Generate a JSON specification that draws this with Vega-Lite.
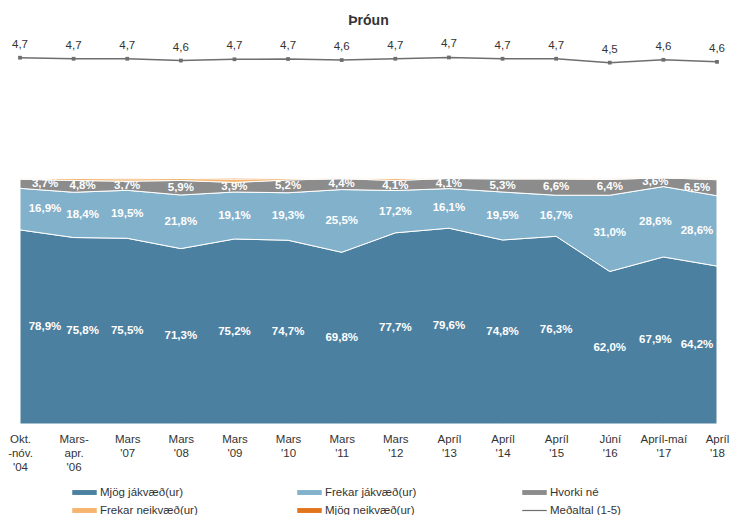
{
  "$schema": "https://vega.github.io/schema/vega-lite/v6.json",
  "width": 697,
  "height": 386,
  "autosize": {"type": "none"},
  "padding": {"left": 20, "top": 38, "right": 15, "bottom": 91},
  "background": "white",
  "title": {"text": "Þróun", "fontSize": 14, "fontWeight": "bold", "font": "Liberation Sans", "color": "#333333", "anchor": "middle", "baseline": "alphabetic", "offset": -1, "frame": "group"},
  "config": {"view": {"stroke": null}, "font": "Liberation Sans"},
  "datasets": {
    "shares": [
      {"period": "Okt.|-nóv.|'04", "cat": "Mjög jákvæð(ur)", "o": 1, "value": 78.9},
      {"period": "Okt.|-nóv.|'04", "cat": "Frekar jákvæð(ur)", "o": 2, "value": 16.9},
      {"period": "Okt.|-nóv.|'04", "cat": "Hvorki né", "o": 3, "value": 3.7},
      {"period": "Okt.|-nóv.|'04", "cat": "Frekar neikvæð(ur)", "o": 4, "value": 0.4},
      {"period": "Okt.|-nóv.|'04", "cat": "Mjög neikvæð(ur)", "o": 5, "value": 0.1},
      {"period": "Mars-|apr.|'06", "cat": "Mjög jákvæð(ur)", "o": 1, "value": 75.8},
      {"period": "Mars-|apr.|'06", "cat": "Frekar jákvæð(ur)", "o": 2, "value": 18.4},
      {"period": "Mars-|apr.|'06", "cat": "Hvorki né", "o": 3, "value": 4.8},
      {"period": "Mars-|apr.|'06", "cat": "Frekar neikvæð(ur)", "o": 4, "value": 0.8},
      {"period": "Mars-|apr.|'06", "cat": "Mjög neikvæð(ur)", "o": 5, "value": 0.2},
      {"period": "Mars|'07", "cat": "Mjög jákvæð(ur)", "o": 1, "value": 75.5},
      {"period": "Mars|'07", "cat": "Frekar jákvæð(ur)", "o": 2, "value": 19.5},
      {"period": "Mars|'07", "cat": "Hvorki né", "o": 3, "value": 3.7},
      {"period": "Mars|'07", "cat": "Frekar neikvæð(ur)", "o": 4, "value": 1.0},
      {"period": "Mars|'07", "cat": "Mjög neikvæð(ur)", "o": 5, "value": 0.3},
      {"period": "Mars|'08", "cat": "Mjög jákvæð(ur)", "o": 1, "value": 71.3},
      {"period": "Mars|'08", "cat": "Frekar jákvæð(ur)", "o": 2, "value": 21.8},
      {"period": "Mars|'08", "cat": "Hvorki né", "o": 3, "value": 5.9},
      {"period": "Mars|'08", "cat": "Frekar neikvæð(ur)", "o": 4, "value": 0.8},
      {"period": "Mars|'08", "cat": "Mjög neikvæð(ur)", "o": 5, "value": 0.2},
      {"period": "Mars|'09", "cat": "Mjög jákvæð(ur)", "o": 1, "value": 75.2},
      {"period": "Mars|'09", "cat": "Frekar jákvæð(ur)", "o": 2, "value": 19.1},
      {"period": "Mars|'09", "cat": "Hvorki né", "o": 3, "value": 3.9},
      {"period": "Mars|'09", "cat": "Frekar neikvæð(ur)", "o": 4, "value": 1.4},
      {"period": "Mars|'09", "cat": "Mjög neikvæð(ur)", "o": 5, "value": 0.4},
      {"period": "Mars|'10", "cat": "Mjög jákvæð(ur)", "o": 1, "value": 74.7},
      {"period": "Mars|'10", "cat": "Frekar jákvæð(ur)", "o": 2, "value": 19.3},
      {"period": "Mars|'10", "cat": "Hvorki né", "o": 3, "value": 5.2},
      {"period": "Mars|'10", "cat": "Frekar neikvæð(ur)", "o": 4, "value": 0.6},
      {"period": "Mars|'10", "cat": "Mjög neikvæð(ur)", "o": 5, "value": 0.2},
      {"period": "Mars|'11", "cat": "Mjög jákvæð(ur)", "o": 1, "value": 69.8},
      {"period": "Mars|'11", "cat": "Frekar jákvæð(ur)", "o": 2, "value": 25.5},
      {"period": "Mars|'11", "cat": "Hvorki né", "o": 3, "value": 4.4},
      {"period": "Mars|'11", "cat": "Frekar neikvæð(ur)", "o": 4, "value": 0.3},
      {"period": "Mars|'11", "cat": "Mjög neikvæð(ur)", "o": 5, "value": 0.0},
      {"period": "Mars|'12", "cat": "Mjög jákvæð(ur)", "o": 1, "value": 77.7},
      {"period": "Mars|'12", "cat": "Frekar jákvæð(ur)", "o": 2, "value": 17.2},
      {"period": "Mars|'12", "cat": "Hvorki né", "o": 3, "value": 4.1},
      {"period": "Mars|'12", "cat": "Frekar neikvæð(ur)", "o": 4, "value": 0.8},
      {"period": "Mars|'12", "cat": "Mjög neikvæð(ur)", "o": 5, "value": 0.2},
      {"period": "Apríl|'13", "cat": "Mjög jákvæð(ur)", "o": 1, "value": 79.6},
      {"period": "Apríl|'13", "cat": "Frekar jákvæð(ur)", "o": 2, "value": 16.1},
      {"period": "Apríl|'13", "cat": "Hvorki né", "o": 3, "value": 4.1},
      {"period": "Apríl|'13", "cat": "Frekar neikvæð(ur)", "o": 4, "value": 0.2},
      {"period": "Apríl|'13", "cat": "Mjög neikvæð(ur)", "o": 5, "value": 0.0},
      {"period": "Apríl|'14", "cat": "Mjög jákvæð(ur)", "o": 1, "value": 74.8},
      {"period": "Apríl|'14", "cat": "Frekar jákvæð(ur)", "o": 2, "value": 19.5},
      {"period": "Apríl|'14", "cat": "Hvorki né", "o": 3, "value": 5.3},
      {"period": "Apríl|'14", "cat": "Frekar neikvæð(ur)", "o": 4, "value": 0.3},
      {"period": "Apríl|'14", "cat": "Mjög neikvæð(ur)", "o": 5, "value": 0.1},
      {"period": "Apríl|'15", "cat": "Mjög jákvæð(ur)", "o": 1, "value": 76.3},
      {"period": "Apríl|'15", "cat": "Frekar jákvæð(ur)", "o": 2, "value": 16.7},
      {"period": "Apríl|'15", "cat": "Hvorki né", "o": 3, "value": 6.6},
      {"period": "Apríl|'15", "cat": "Frekar neikvæð(ur)", "o": 4, "value": 0.3},
      {"period": "Apríl|'15", "cat": "Mjög neikvæð(ur)", "o": 5, "value": 0.1},
      {"period": "Júní|'16", "cat": "Mjög jákvæð(ur)", "o": 1, "value": 62.0},
      {"period": "Júní|'16", "cat": "Frekar jákvæð(ur)", "o": 2, "value": 31.0},
      {"period": "Júní|'16", "cat": "Hvorki né", "o": 3, "value": 6.4},
      {"period": "Júní|'16", "cat": "Frekar neikvæð(ur)", "o": 4, "value": 0.5},
      {"period": "Júní|'16", "cat": "Mjög neikvæð(ur)", "o": 5, "value": 0.1},
      {"period": "Apríl-maí|'17", "cat": "Mjög jákvæð(ur)", "o": 1, "value": 67.9},
      {"period": "Apríl-maí|'17", "cat": "Frekar jákvæð(ur)", "o": 2, "value": 28.6},
      {"period": "Apríl-maí|'17", "cat": "Hvorki né", "o": 3, "value": 3.6},
      {"period": "Apríl-maí|'17", "cat": "Frekar neikvæð(ur)", "o": 4, "value": 0.0},
      {"period": "Apríl-maí|'17", "cat": "Mjög neikvæð(ur)", "o": 5, "value": 0.0},
      {"period": "Apríl|'18", "cat": "Mjög jákvæð(ur)", "o": 1, "value": 64.2},
      {"period": "Apríl|'18", "cat": "Frekar jákvæð(ur)", "o": 2, "value": 28.6},
      {"period": "Apríl|'18", "cat": "Hvorki né", "o": 3, "value": 6.5},
      {"period": "Apríl|'18", "cat": "Frekar neikvæð(ur)", "o": 4, "value": 0.5},
      {"period": "Apríl|'18", "cat": "Mjög neikvæð(ur)", "o": 5, "value": 0.2}
    ],
    "means": [
      {"period": "Okt.|-nóv.|'04", "mean": 4.72},
      {"period": "Mars-|apr.|'06", "mean": 4.68},
      {"period": "Mars|'07", "mean": 4.68},
      {"period": "Mars|'08", "mean": 4.61},
      {"period": "Mars|'09", "mean": 4.66},
      {"period": "Mars|'10", "mean": 4.67},
      {"period": "Mars|'11", "mean": 4.63},
      {"period": "Mars|'12", "mean": 4.68},
      {"period": "Apríl|'13", "mean": 4.73},
      {"period": "Apríl|'14", "mean": 4.68},
      {"period": "Apríl|'15", "mean": 4.68},
      {"period": "Júní|'16", "mean": 4.53},
      {"period": "Apríl-maí|'17", "mean": 4.64},
      {"period": "Apríl|'18", "mean": 4.56}
    ]
  },
  "encoding": {
    "x": {
      "field": "period",
      "type": "ordinal",
      "scale": {"type": "point", "padding": 0, "domain": ["Okt.|-nóv.|'04", "Mars-|apr.|'06", "Mars|'07", "Mars|'08", "Mars|'09", "Mars|'10", "Mars|'11", "Mars|'12", "Apríl|'13", "Apríl|'14", "Apríl|'15", "Júní|'16", "Apríl-maí|'17", "Apríl|'18"]},
      "axis": {"title": null, "labelExpr": "split(datum.label, '|')", "ticks": false, "domain": false, "grid": false, "labelAngle": 0, "labelFontSize": 11.5, "labelColor": "#333333", "labelPadding": 9, "labelLineHeight": 14, "labelFont": "Liberation Sans"}
    }
  },
  "layer": [
    {
      "data": {"name": "shares"},
      "mark": {"type": "area", "stroke": "white", "strokeWidth": 1},
      "encoding": {
        "y": {"field": "value", "type": "quantitative", "stack": "zero", "scale": {"domain": [0, 156.91], "nice": false, "zero": false}, "axis": null},
        "color": {
          "field": "cat",
          "type": "nominal",
          "scale": {
            "domain": ["Mjög jákvæð(ur)", "Frekar jákvæð(ur)", "Hvorki né", "Frekar neikvæð(ur)", "Mjög neikvæð(ur)", "Meðaltal (1-5)"],
            "range": ["#4c80a0", "#82b1cc", "#8c8c8c", "#f6b46c", "#e2741c", "#6e6e6e"]
          },
          "legend": {
            "title": null, "orient": "none", "legendX": 52, "legendY": 442, "columns": 3, "direction": "horizontal",
            "symbolType": {"expr": "datum.value === 'Meðaltal (1-5)' ? 'M-1,-0.05H1V0.05H-1Z' : 'M-1,-0.2H1V0.2H-1Z'"},
            "symbolSize": 600, "symbolStrokeWidth": 0,
            "labelFontSize": 11.5, "labelColor": "#333333", "labelFont": "Liberation Sans",
            "columnPadding": 99, "rowPadding": 0, "gridAlign": "all", "labelOffset": 3, "padding": 0
          }
        },
        "order": {"field": "o", "type": "quantitative"}
      }
    },
    {
      "data": {"name": "shares"},
      "transform": [
        {"stack": "value", "groupby": ["period"], "sort": [{"field": "o", "order": "ascending"}], "as": ["y0", "y1"]},
        {"filter": "datum.o <= 3"},
        {"calculate": "(datum.y0 + datum.y1) / 2", "as": "mid"},
        {"calculate": "replace(format(datum.value, '.1f'), '.', ',') + '%'", "as": "lbl"}
      ],
      "mark": {
        "type": "text", "color": "white", "fontWeight": "bold", "fontSize": 11.5, "font": "Liberation Sans", "baseline": "middle", "align": "center",
        "dx": {"expr": "datum.period === \"Okt.|-nóv.|'04\" ? 25 : datum.period === \"Mars-|apr.|'06\" ? 9 : datum.period === \"Apríl-maí|'17\" ? -8 : datum.period === \"Apríl|'18\" ? -20 : 0"}
      },
      "encoding": {
        "y": {"field": "mid", "type": "quantitative", "scale": {"domain": [0, 156.91], "nice": false, "zero": false}, "axis": null},
        "text": {"field": "lbl"}
      }
    },
    {
      "data": {"name": "means"},
      "mark": {"type": "line", "strokeWidth": 1.5, "point": {"shape": "square", "size": 14, "filled": true}},
      "encoding": {
        "y": {"field": "mean", "type": "quantitative", "scale": {"domain": [-9.368, 5.478], "nice": false, "zero": false}, "axis": null},
        "color": {"datum": "Meðaltal (1-5)", "type": "nominal"}
      }
    },
    {
      "data": {"name": "means"},
      "transform": [
        {"calculate": "replace(format(datum.mean, '.1f'), '.', ',')", "as": "lbl"}
      ],
      "mark": {"type": "text", "color": "#333333", "fontSize": 11.5, "font": "Liberation Sans", "baseline": "middle", "align": "center", "dy": -13},
      "encoding": {
        "y": {"field": "mean", "type": "quantitative", "scale": {"domain": [-9.368, 5.478], "nice": false, "zero": false}, "axis": null},
        "text": {"field": "lbl"}
      }
    }
  ],
  "resolve": {"scale": {"y": "independent"}}
}
